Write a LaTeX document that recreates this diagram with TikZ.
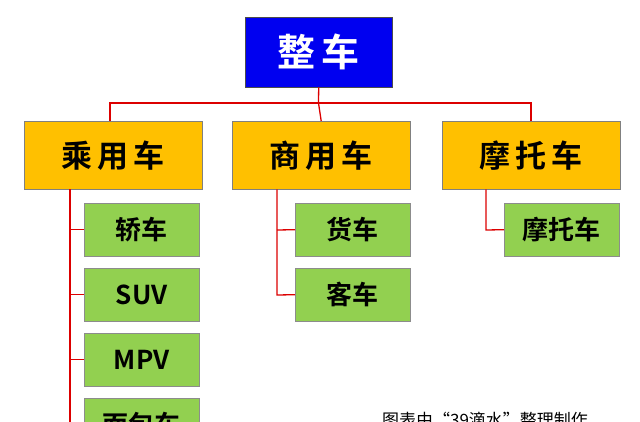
\documentclass[tikz,border=0pt]{standalone}
\usepackage{fontspec}
\setmainfont{Noto Sans CJK SC}
\newfontfamily\cjkb{Noto Sans CJK SC Bold}
\begin{document}
\begin{tikzpicture}[x=1pt,y=-1pt,
  topbox/.style={draw=black!70,fill={rgb,255:red,0;green,0;blue,240},text=white,font=\cjkb\fontsize{38}{40}\selectfont,minimum width=147pt,minimum height=70pt,inner sep=0,anchor=north west},
  catbox/.style={draw=black!50,fill={rgb,255:red,255;green,192;blue,0},font=\cjkb\fontsize{31}{34}\selectfont,minimum width=178pt,minimum height=68pt,inner sep=0,anchor=north west},
  leafbox/.style={draw=black!45,fill={rgb,255:red,146;green,208;blue,80},font=\cjkb\fontsize{26}{28}\selectfont,minimum width=115pt,minimum height=53pt,inner sep=0,anchor=north west},
  link/.style={draw={rgb,255:red,220;green,0;blue,0},line width=1.3pt}]
\useasboundingbox (0,0) rectangle (640,422);
\clip (0,0) rectangle (640,422);
\node[topbox] (top) at (245,17) {整\,车};
\node[catbox] (c1) at (24,121) {乘\,用\,车};
\node[catbox] (c2) at (232,121) {商\,用\,车};
\node[catbox] (c3) at (442,121) {摩\,托\,车};
\node[leafbox] (l1) at (84,203) {轿车};
\node[leafbox] (l2) at (84,268) {SUV};
\node[leafbox] (l3) at (84,333) {MPV};
\node[leafbox] (l4) at (84,398) {面包车};
\node[leafbox] (m1) at (295,203) {货车};
\node[leafbox] (m2) at (295,268) {客车};
\node[leafbox] (r1) at (504,203) {摩托车};
\coordinate (h) at (318.5,103);
\draw[link] (top.south) -- (h);
\draw[link] (c1.north -| 110,0) -- (110,103) -- (531,103) -- (c3.north -| 531,0);
\draw[link] (h) -- (c2.north);
\coordinate (lb) at (70,430);
\draw[link] (c1.south -| lb) -- (lb);
\foreach \n in {l1,l2,l3,l4} \draw[link] (\n.west -| lb) -- (\n.west);
\draw[link] (c2.south -| 277,0) -- (277,295) -- (m2.west);
\draw[link] (277,230) -- (m1.west);
\draw[link] (c3.south -| 486,0) -- (486,230) -- (r1.west);
\node[font=\fontsize{17}{18}\selectfont,anchor=north] (note) at (485,409) {图表由“39滴水”整理制作};
\end{tikzpicture}
\end{document}
